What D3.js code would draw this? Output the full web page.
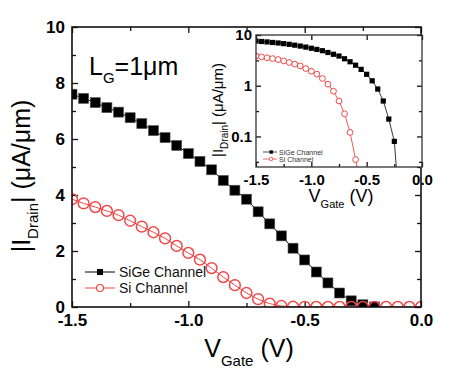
<!DOCTYPE html>
<html><head><meta charset="utf-8">
<script src="https://cdn.jsdelivr.net/npm/d3@7"></script>
<style>
body{margin:0;background:#fff}
text{font-family:Arial,"Liberation Sans",sans-serif}
</style>
</head><body>
<svg id="c" width="450" height="378"></svg>
<script>
// ---- data ----
const vGate = [-1.5,-1.45,-1.4,-1.35,-1.3,-1.25,-1.2,-1.15,-1.1,-1.05,-1.0,-0.95,-0.9,-0.85,-0.8,-0.75,-0.7,-0.65,-0.6,-0.55,-0.5,-0.45,-0.4,-0.35,-0.3,-0.25,-0.2,-0.15,-0.1,-0.05,0.0];
const sigeCurrent = [7.6,7.45,7.3,7.12,6.96,6.76,6.55,6.3,6.05,5.77,5.48,5.2,4.9,4.52,4.17,3.85,3.4,2.97,2.54,2.1,1.68,1.25,0.86,0.5,0.22,0.08,0.003];
const siCurrent = [3.85,3.7,3.57,3.43,3.28,3.08,2.87,2.67,2.45,2.18,1.93,1.69,1.39,1.07,0.78,0.5,0.28,0.12,0.035,0.009,0.004,0.003,0.002,0.002,0.0015,0.0015,0.001,0.001,0.001,0.001,0.001];
const seriesNames = ["SiGe Channel","Si Channel"];
const xTicks = [-1.5,-1.0,-0.5,0.0];
const xMinorTicks = [-1.25,-0.75,-0.25];
const yTicks = [0,2,4,6,8,10];
const yMinorTicks = [1,3,5,7,9];
const insetYTicks = [10,1,0.1];
const insetYTickLabels = ["10","1","0.1"];
const insetYMinorTicks = [3.162,0.3162,0.03162];

const sige = sigeCurrent.map((v,i)=>({x:vGate[i],y:v}));
const si = siCurrent.map((v,i)=>({x:vGate[i],y:v}));
const RED = "#f04848";

const svg = d3.select("#c");

// ---------- main plot ----------
const M = {l:72, r:421, t:27, b:307};
const x = d3.scaleLinear().domain([-1.5,0]).range([M.l,M.r]);
const y = d3.scaleLinear().domain([0,10]).range([M.b,M.t]);

svg.append("clipPath").attr("id","mclip").append("rect")
  .attr("x",M.l).attr("y",M.t).attr("width",M.r-M.l).attr("height",M.b-M.t);

function styleAxis(g, fs){
  g.select(".domain").remove();
  g.selectAll("line").attr("stroke","#111").attr("stroke-width",1.3);
  g.selectAll("text").attr("font-size",fs).attr("font-weight","bold").attr("fill","#000")
    .style("font-family","Arial, 'Liberation Sans', sans-serif");
}

// ticks
const gx = svg.append("g").attr("transform",`translate(0,${M.b})`)
  .call(d3.axisBottom(x).tickValues(xTicks).tickFormat(d3.format(".1f")).tickSize(-6).tickPadding(7));
styleAxis(gx,17);
gx.selectAll("text").text(d=>d3.format(".1f")(d).replace("−","-"));
const gxm = svg.append("g").attr("transform",`translate(0,${M.b})`)
  .call(d3.axisBottom(x).tickValues(xMinorTicks).tickFormat("").tickSize(-4));
styleAxis(gxm,17);
const gxt = svg.append("g").attr("transform",`translate(0,${M.t})`)
  .call(d3.axisTop(x).tickValues(xTicks).tickFormat("").tickSize(-6));
styleAxis(gxt,17);
const gxtm = svg.append("g").attr("transform",`translate(0,${M.t})`)
  .call(d3.axisTop(x).tickValues(xMinorTicks).tickFormat("").tickSize(-4));
styleAxis(gxtm,17);

const gy = svg.append("g").attr("transform",`translate(${M.l},0)`)
  .call(d3.axisLeft(y).tickValues(yTicks).tickSize(-6).tickPadding(7));
styleAxis(gy,17);
const gym = svg.append("g").attr("transform",`translate(${M.l},0)`)
  .call(d3.axisLeft(y).tickValues(yMinorTicks).tickFormat("").tickSize(-4));
styleAxis(gym,17);
const gyr = svg.append("g").attr("transform",`translate(${M.r},0)`)
  .call(d3.axisRight(y).tickValues(yTicks).tickFormat("").tickSize(-6));
styleAxis(gyr,17);
const gyrm = svg.append("g").attr("transform",`translate(${M.r},0)`)
  .call(d3.axisRight(y).tickValues(yMinorTicks).tickFormat("").tickSize(-4));
styleAxis(gyrm,17);

// data
const mplot = svg.append("g").attr("clip-path","url(#mclip)");
const lineM = d3.line().x(d=>x(d.x)).y(d=>y(d.y));
mplot.append("path").datum(sige).attr("d",lineM).attr("fill","none").attr("stroke","#000").attr("stroke-width",1);
mplot.append("path").datum(si).attr("d",lineM).attr("fill","none").attr("stroke",RED).attr("stroke-width",1);
mplot.selectAll(".sq").data(sige).join("rect")
  .attr("x",d=>x(d.x)-5).attr("y",d=>y(d.y)-5).attr("width",10).attr("height",10)
  .attr("fill","#000").attr("stroke","#555").attr("stroke-width",0.6);
mplot.selectAll(".ci").data(si).join("circle")
  .attr("cx",d=>x(d.x)).attr("cy",d=>y(d.y)).attr("r",5.4)
  .attr("fill","none").attr("stroke",RED).attr("stroke-width",1.5);

// frame
svg.append("rect").attr("x",M.l).attr("y",M.t).attr("width",M.r-M.l).attr("height",M.b-M.t)
  .attr("fill","none").attr("stroke","#111").attr("stroke-width",1.6);

// axis titles
const xt = svg.append("text").attr("x",249).attr("y",357).attr("text-anchor","middle").attr("font-size",25);
xt.append("tspan").text("V");
xt.append("tspan").attr("font-size",15).attr("dy",9).text("Gate");
xt.append("tspan").attr("dy",-9).text(" (V)");

const yt = svg.append("text").attr("transform","translate(30,176) rotate(-90)").attr("text-anchor","middle").attr("font-size",25);
yt.append("tspan").text("|I");
yt.append("tspan").attr("font-size",15).attr("dy",8).text("Drain");
yt.append("tspan").attr("dy",-8).text("| (\u03BCA/\u03BCm)");

const lg = svg.append("text").attr("x",89).attr("y",75).attr("font-size",25);
lg.append("tspan").text("L");
lg.append("tspan").attr("font-size",15).attr("dy",8).text("G");
lg.append("tspan").attr("dy",-8).text("=1\u03BCm");

// main legend
const leg = svg.append("g");
[[272,"#000","sq"],[288,RED,"ci"]].forEach(([ly,col,mk],i)=>{
  leg.append("line").attr("x1",85).attr("x2",115).attr("y1",ly).attr("y2",ly).attr("stroke",col).attr("stroke-width",1);
  if(mk==="sq") leg.append("rect").attr("x",97).attr("y",ly-3).attr("width",6).attr("height",6).attr("fill","#000");
  else leg.append("circle").attr("cx",100).attr("cy",ly).attr("r",3.5).attr("fill","#fff").attr("stroke",col).attr("stroke-width",1.2);
  leg.append("text").attr("x",119).attr("y",ly+5).attr("font-size",14).attr("fill","#111").text(seriesNames[i]);
});

// ---------- inset ----------
const I = {l:256, r:422, t:35, b:167};
const xi = d3.scaleLinear().domain([-1.5,0]).range([I.l,I.r]);
const yi = d3.scaleLog().domain([0.025,10]).range([I.b,I.t]);

svg.append("rect").attr("x",I.l).attr("y",I.t).attr("width",I.r-I.l).attr("height",I.b-I.t).attr("fill","#fff");
svg.append("clipPath").attr("id","iclip").append("rect")
  .attr("x",I.l).attr("y",I.t).attr("width",I.r-I.l).attr("height",I.b-I.t);

const gix = svg.append("g").attr("transform",`translate(0,${I.b})`)
  .call(d3.axisBottom(xi).tickValues(xTicks).tickSize(-5).tickPadding(7));
styleAxis(gix,15);
gix.selectAll("text").text(d=>d3.format(".1f")(d).replace("−","-"));
const gixm = svg.append("g").attr("transform",`translate(0,${I.b})`)
  .call(d3.axisBottom(xi).tickValues(xMinorTicks).tickFormat("").tickSize(-3));
styleAxis(gixm,15);
const gixt = svg.append("g").attr("transform",`translate(0,${I.t})`)
  .call(d3.axisTop(xi).tickValues(xTicks).tickFormat("").tickSize(-5));
styleAxis(gixt,15);
const giy = svg.append("g").attr("transform",`translate(${I.l},0)`)
  .call(d3.axisLeft(yi).tickValues(insetYTicks).tickFormat((d,i)=>insetYTickLabels[i]).tickSize(-5).tickPadding(4));
styleAxis(giy,15);
const giym = svg.append("g").attr("transform",`translate(${I.l},0)`)
  .call(d3.axisLeft(yi).tickValues(insetYMinorTicks).tickFormat("").tickSize(-3));
styleAxis(giym,15);
const giyr = svg.append("g").attr("transform",`translate(${I.r},0)`)
  .call(d3.axisRight(yi).tickValues(insetYTicks).tickFormat("").tickSize(-5));
styleAxis(giyr,15);
const giyrm = svg.append("g").attr("transform",`translate(${I.r},0)`)
  .call(d3.axisRight(yi).tickValues(insetYMinorTicks).tickFormat("").tickSize(-3));
styleAxis(giyrm,15);

const iplot = svg.append("g").attr("clip-path","url(#iclip)");
const lineI = d3.line().x(d=>xi(d.x)).y(d=>yi(d.y));
iplot.append("path").datum(sige).attr("d",lineI).attr("fill","none").attr("stroke","#222").attr("stroke-width",0.9);
iplot.append("path").datum(si).attr("d",lineI).attr("fill","none").attr("stroke",RED).attr("stroke-width",0.9);
iplot.selectAll(".isq").data(sige).join("rect")
  .attr("x",d=>xi(d.x)-2.6).attr("y",d=>yi(d.y)-2.6).attr("width",5.2).attr("height",5.2).attr("fill","#000");
iplot.selectAll(".ici").data(si).join("circle")
  .attr("cx",d=>xi(d.x)).attr("cy",d=>yi(d.y)).attr("r",2.9)
  .attr("fill","#fff").attr("stroke",RED).attr("stroke-width",1);

svg.append("rect").attr("x",I.l).attr("y",I.t).attr("width",I.r-I.l).attr("height",I.b-I.t)
  .attr("fill","none").attr("stroke","#333").attr("stroke-width",1.3);

// inset legend
[[152,"#222","sq"],[159,RED,"ci"]].forEach(([ly,col,mk],i)=>{
  svg.append("line").attr("x1",263).attr("x2",277).attr("y1",ly).attr("y2",ly).attr("stroke",col).attr("stroke-width",0.8);
  if(mk==="sq") svg.append("rect").attr("x",269.5).attr("y",ly-1.7).attr("width",3.4).attr("height",3.4).attr("fill","#000");
  else svg.append("circle").attr("cx",271).attr("cy",ly).attr("r",1.8).attr("fill","#fff").attr("stroke",col).attr("stroke-width",0.8);
  svg.append("text").attr("x",279).attr("y",ly+2.5).attr("font-size",7).attr("fill","#333").text(seriesNames[i]);
});

// inset titles
const ixt = svg.append("text").attr("x",341).attr("y",202).attr("text-anchor","middle").attr("font-size",18);
ixt.append("tspan").text("V");
ixt.append("tspan").attr("font-size",11).attr("dy",6).text("Gate");
ixt.append("tspan").attr("dy",-6).text(" (V)");

const iyt = svg.append("text").attr("transform","translate(223,110) rotate(-90)").attr("text-anchor","middle").attr("font-size",15);
iyt.append("tspan").text("|I");
iyt.append("tspan").attr("font-size",10).attr("dy",5).text("Drain");
iyt.append("tspan").attr("dy",-5).text("| (\u03BCA/\u03BCm)");
</script>
</body></html>
